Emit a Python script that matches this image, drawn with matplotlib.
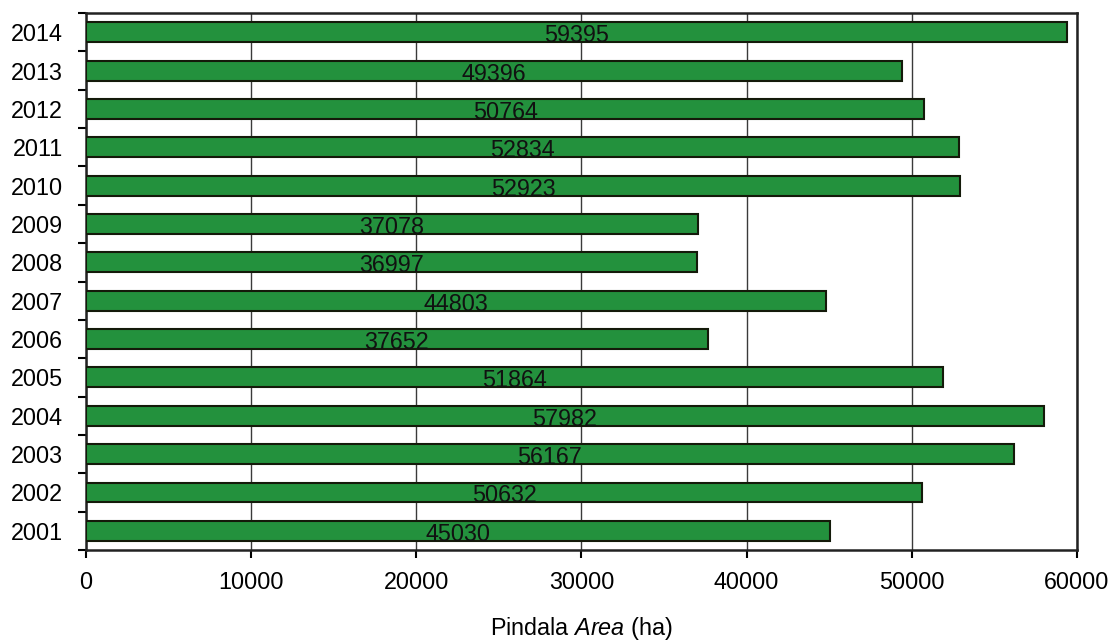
import matplotlib
matplotlib.use("Agg")
import matplotlib.pyplot as plt
import numpy as np

plt.rcParams['font.family'] = ['Liberation Sans', 'DejaVu Sans']
plt.rcParams['mathtext.fontset'] = 'custom'
plt.rcParams['mathtext.rm'] = 'Liberation Sans'
plt.rcParams['mathtext.it'] = 'Liberation Sans:italic'

years = ["2001", "2002", "2003", "2004", "2005", "2006", "2007",
         "2008", "2009", "2010", "2011", "2012", "2013", "2014"]
area = [45030, 50632, 56167, 57982, 51864, 37652, 44803,
        36997, 37078, 52923, 52834, 50764, 49396, 59395]

fs = 16.8
fig = plt.figure(figsize=(11.12, 6.43), dpi=100)
ax = fig.add_axes([0.0773, 0.1446, 0.8912, 0.8352])

pos = np.arange(len(years))
ax.barh(pos, area, height=0.52, color="#23913d", edgecolor="#141a0a",
        linewidth=1.5, zorder=3)

for p, v in zip(pos, area):
    ax.text(v / 2, p - 0.26, str(v), ha="center", va="baseline",
            fontsize=fs, color="#111111", zorder=4)

ax.set_xlim(0, 60000)
ax.set_ylim(-0.5, len(years) - 0.5)
ax.set_xticks(np.arange(0, 60001, 10000))
ax.set_yticks(pos)
ax.set_yticklabels(years)
ax.set_yticks(np.arange(-0.5, len(years), 1.0), minor=True)
ax.tick_params(axis="y", which="major", length=0, pad=16.5, labelsize=fs)
ax.tick_params(axis="y", which="minor", length=6, width=1.5, direction="out")
ax.tick_params(axis="x", length=6, width=1.5, direction="out", pad=9,
               labelsize=fs)

ax.xaxis.grid(True, color="#3a3a3a", linewidth=1.0, zorder=0)
for s in ax.spines.values():
    s.set_linewidth(1.8)
    s.set_color("#222222")

fig.text(0.523, 0.012, r"Pindala $\mathit{Area}$ (ha)", fontsize=fs,
         ha="center", va="baseline")

fig.savefig("out.png", dpi=100)
